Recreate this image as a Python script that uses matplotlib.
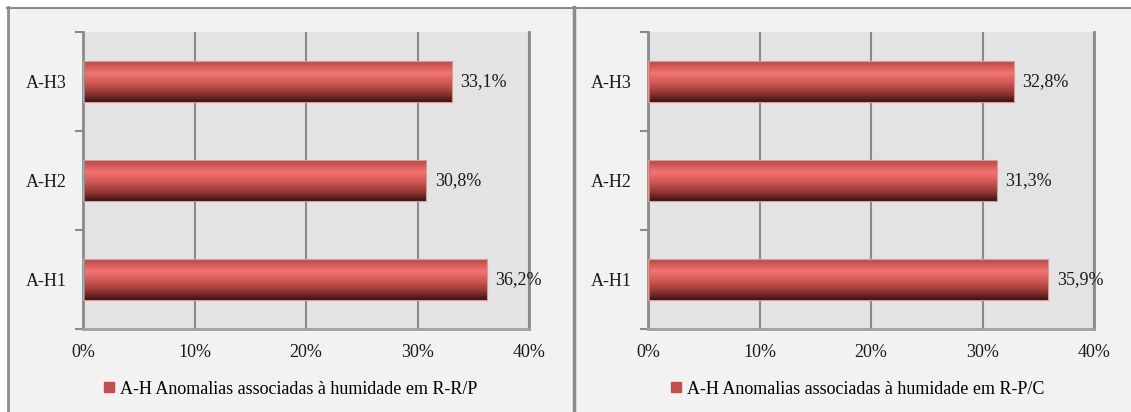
import numpy as np
import matplotlib
matplotlib.use("Agg")
import matplotlib.pyplot as plt
from matplotlib.colors import LinearSegmentedColormap
from matplotlib.lines import Line2D

categories = ["A-H1", "A-H2", "A-H3"]
values_rrp = [36.2, 30.8, 33.1]
values_rpc = [35.9, 31.3, 32.8]
legend_rrp = "A-H Anomalias associadas à humidade em R-R/P"
legend_rpc = "A-H Anomalias associadas à humidade em R-P/C"
x_ticks = [0, 10, 20, 30, 40]

plt.rcParams["font.family"] = ["Liberation Serif", "DejaVu Serif"]
FS = 13
GRID = "#8a8a8a"
PANEL_BG = "#f2f2f2"
PLOT_BG = "#e3e3e3"
BAR_RED = "#c0504d"

# cylinder-style shading, top of bar to bottom
shade = LinearSegmentedColormap.from_list(
    "cyl",
    [(0.0, "#b84846"), (0.3, "#f27471"), (0.55, "#cc5653"),
     (0.8, "#8c3432"), (1.0, "#3a1212")],
)
grad = np.linspace(0, 1, 256).reshape(-1, 1)

fig = plt.figure(figsize=(11.31, 4.12), dpi=100)
fig.patch.set_facecolor(PANEL_BG)

W, H = 1131.0, 412.0


def fx(px):
    return px / W


def fy(py):
    return 1 - py / H


# white margin and frame lines
fig.add_artist(plt.Rectangle((0, fy(7)), 1, 1 - fy(7), transform=fig.transFigure,
                             facecolor="white", edgecolor="none", zorder=0))
fig.add_artist(plt.Rectangle((0, 0), fx(7), 1, transform=fig.transFigure,
                             facecolor="white", edgecolor="none", zorder=0))
fig.add_artist(Line2D([fx(7), 1], [fy(7.5), fy(7.5)], transform=fig.transFigure,
                      color="#8c8c8c", lw=1.5))
fig.add_artist(Line2D([fx(8), fx(8)], [0, fy(7)], transform=fig.transFigure,
                      color="#8c8c8c", lw=2))
fig.add_artist(Line2D([fx(573.5), fx(573.5)], [0, fy(7)], transform=fig.transFigure,
                      color="#8c8c8c", lw=2.5))


def draw_panel(left_px, values, label, legend_x_px):
    ax = fig.add_axes([fx(left_px), fy(329), 446 / W, 297 / H])
    ax.set_facecolor(PLOT_BG)
    y = np.arange(len(categories))
    bars = ax.barh(y, values, height=0.414, color="none",
                   edgecolor="#d99a98", linewidth=0.8, zorder=3)
    for bar in bars:
        x0, y0 = bar.get_x(), bar.get_y()
        im = ax.imshow(grad, extent=[x0, x0 + bar.get_width(), y0, y0 + bar.get_height()],
                       aspect="auto", cmap=shade, origin="upper", zorder=2,
                       interpolation="bilinear")
        im.set_clip_path(bar)
    for v, yy in zip(values, y):
        ax.text(v + 0.75, yy, f"{v:.1f}%".replace(".", ","), va="center",
                ha="left", fontsize=FS, color="#1a1a1a", zorder=4)

    ax.set_xlim(0, 40)
    ax.set_ylim(-0.5, len(categories) - 0.5)
    ax.set_xticks(x_ticks)
    ax.set_xticklabels([f"{t}%" for t in x_ticks], fontsize=FS, color="#1a1a1a")
    ax.tick_params(axis="x", length=0, pad=11)
    ax.set_yticks(y)
    ax.set_yticklabels(categories, fontsize=FS, color="#1a1a1a")
    ax.tick_params(axis="y", which="major", length=0, pad=12)
    ax.set_yticks(np.arange(-0.5, len(categories)), minor=True)
    ax.tick_params(axis="y", which="minor", length=6, width=1.5, color=GRID)
    ax.xaxis.grid(True, color=GRID, lw=1.5, zorder=1)
    ax.set_axisbelow(True)
    ax.spines["top"].set_visible(False)
    ax.spines["left"].set_color(GRID)
    ax.spines["left"].set_linewidth(2)
    ax.spines["bottom"].set_color("#a0a0a0")
    ax.spines["bottom"].set_linewidth(2)
    ax.spines["right"].set_color(GRID)
    ax.spines["right"].set_linewidth(2)

    handle = Line2D([], [], marker="s", linestyle="none", markersize=7,
                    markerfacecolor=BAR_RED, markeredgecolor=BAR_RED)
    fig.legend([handle], [label], loc="center left",
               bbox_to_anchor=(fx(legend_x_px), fy(389)), frameon=False,
               fontsize=FS, handlelength=0.6, handletextpad=0.3,
               borderpad=0, borderaxespad=0)
    return ax


draw_panel(83, values_rrp, legend_rrp, 104)
draw_panel(648, values_rpc, legend_rpc, 671)

fig.savefig("out.png", dpi=100, facecolor=fig.get_facecolor())
